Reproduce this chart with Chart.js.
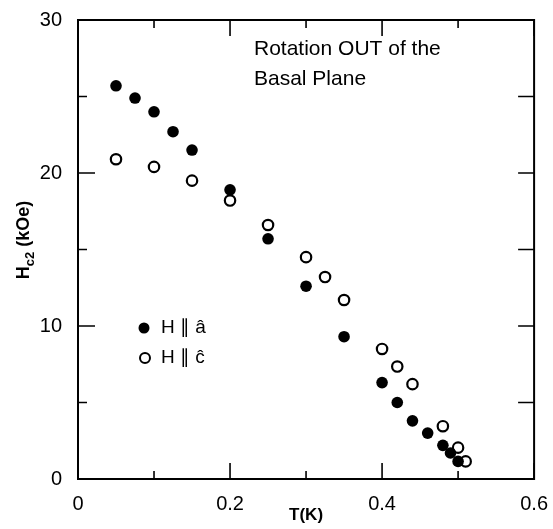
<!DOCTYPE html>
<html>
<head>
<meta charset="utf-8">
<script src="https://cdn.jsdelivr.net/npm/chart.js@4.4.0/dist/chart.umd.min.js"></script>
<style>
  html, body { margin: 0; padding: 0; background: #fff; }
  #wrap { width: 553px; height: 529px; }
</style>
</head>
<body>
<div id="wrap"><canvas id="myChart" width="553" height="529"></canvas></div>
<script>
/* data */
var tA = [0.05, 0.075, 0.1, 0.125, 0.15, 0.2, 0.25, 0.3, 0.35, 0.4, 0.42, 0.44, 0.46, 0.48, 0.49, 0.5];
var hA = [25.7, 24.9, 24.0, 22.7, 21.5, 18.9, 15.7, 12.6, 9.3, 6.3, 5.0, 3.8, 3.0, 2.2, 1.7, 1.15];
var tC = [0.05, 0.1, 0.15, 0.2, 0.25, 0.3, 0.325, 0.35, 0.4, 0.42, 0.44, 0.48, 0.5, 0.51];
var hC = [20.9, 20.4, 19.5, 18.2, 16.6, 14.5, 13.2, 11.7, 8.5, 7.35, 6.2, 3.45, 2.05, 1.15];
var xTicks = [0, 0.2, 0.4, 0.6];
var yTicks = [0, 10, 20, 30];
var legendLabels = ['H \u2225 \u00e2', 'H \u2225 \u0109'];
var noteLines = ['Rotation OUT of the', 'Basal Plane'];

var FONT = "'Liberation Sans', Arial, sans-serif";

function pts(xs, ys) {
    var out = [];
    for (var i = 0; i < xs.length; i++) out.push({ x: xs[i], y: ys[i] });
    return out;
}

/* inward ticks on all four sides, a box, the note, legend and y title */
var decor = {
    id: 'decor',
    afterDraw: function (chart) {
        var c = chart.ctx, a = chart.chartArea;
        var xs = chart.scales.x, ys = chart.scales.y;
        c.save();
        c.strokeStyle = '#000';
        c.lineWidth = 2;
        c.strokeRect(a.left, a.top, a.right - a.left, a.bottom - a.top);

        c.lineWidth = 1.6;
        for (var k = 0; k <= 6; k++) {
            var v = k / 10;
            var px = xs.getPixelForValue(v);
            var len = (k % 2 === 0) ? 16 : 8;
            c.beginPath();
            c.moveTo(px, a.bottom); c.lineTo(px, a.bottom - len);
            c.moveTo(px, a.top); c.lineTo(px, a.top + len);
            c.stroke();
        }
        for (var j = 0; j <= 6; j++) {
            var py = ys.getPixelForValue(j * 5);
            var l1 = (j % 2 === 0) ? 17 : 9;
            c.beginPath();
            c.moveTo(a.left, py); c.lineTo(a.left + l1, py);
            c.moveTo(a.right, py); c.lineTo(a.right - 16, py);
            c.stroke();
        }

        // note
        c.fillStyle = '#000';
        c.font = '21px ' + FONT;
        c.textAlign = 'left';
        c.textBaseline = 'middle';
        c.fillText(noteLines[0], 254, 49);
        c.fillText(noteLines[1], 254, 79);

        // legend
        c.font = '19px ' + FONT;
        c.beginPath();
        c.arc(144, 328, 5.5, 0, Math.PI * 2);
        c.fill();
        c.fillText(legendLabels[0], 161, 328);
        c.beginPath();
        c.lineWidth = 2;
        c.arc(145, 358, 5, 0, Math.PI * 2);
        c.stroke();
        c.fillText(legendLabels[1], 161, 358);

        // y title with subscript
        c.translate(22, 240);
        c.rotate(-Math.PI / 2);
        c.textBaseline = 'alphabetic';
        c.font = '600 18px ' + FONT;
        var w1 = c.measureText('H').width;
        c.font = '600 13px ' + FONT;
        var w2 = c.measureText('c2').width;
        c.font = '600 18px ' + FONT;
        var w3 = c.measureText(' (kOe)').width;
        var x0 = -(w1 + w2 + w3) / 2;
        c.fillText('H', x0, 7);
        c.font = '600 13px ' + FONT;
        c.fillText('c2', x0 + w1, 12);
        c.font = '600 18px ' + FONT;
        c.fillText(' (kOe)', x0 + w1 + w2, 7);
        c.restore();
    }
};

var ctx = document.getElementById('myChart').getContext('2d');
var myChart = new Chart(ctx, {
    type: 'scatter',
    data: {
        datasets: [{
            label: legendLabels[0],
            data: pts(tA, hA),
            pointStyle: 'circle',
            pointRadius: 5.8,
            backgroundColor: '#000',
            borderColor: '#000',
            borderWidth: 0
        }, {
            label: legendLabels[1],
            data: pts(tC, hC),
            pointStyle: 'circle',
            pointRadius: 5.2,
            backgroundColor: '#fff',
            borderColor: '#000',
            borderWidth: 2.2
        }]
    },
    options: {
        responsive: false,
        animation: false,
        layout: { padding: { top: 12, right: 14, left: 0, bottom: 0 } },
        plugins: {
            legend: { display: false },
            tooltip: { enabled: false }
        },
        scales: {
            x: {
                type: 'linear',
                min: 0, max: 0.6,
                grid: { display: false },
                border: { display: false },
                afterBuildTicks: function (s) { s.ticks = xTicks.map(function (v) { return { value: v }; }); },
                afterFit: function (s) { s.height = 50; },
                ticks: {
                    color: '#000',
                    padding: 5,
                    maxRotation: 0,
                    font: { family: FONT, size: 20 },
                    callback: function (v) { return String(v); }
                },
                title: {
                    display: true,
                    text: 'T(K)',
                    color: '#000',
                    padding: { top: 0, bottom: 3 },
                    font: { family: FONT, size: 17, weight: '600' }
                }
            },
            y: {
                type: 'linear',
                min: 0, max: 30,
                grid: { display: false },
                border: { display: false },
                afterBuildTicks: function (s) { s.ticks = yTicks.map(function (v) { return { value: v }; }); },
                afterFit: function (s) { s.width = 78; },
                ticks: {
                    color: '#000',
                    padding: 8,
                    font: { family: FONT, size: 20 }
                }
            }
        }
    },
    plugins: [decor]
});
</script>
</body>
</html>
